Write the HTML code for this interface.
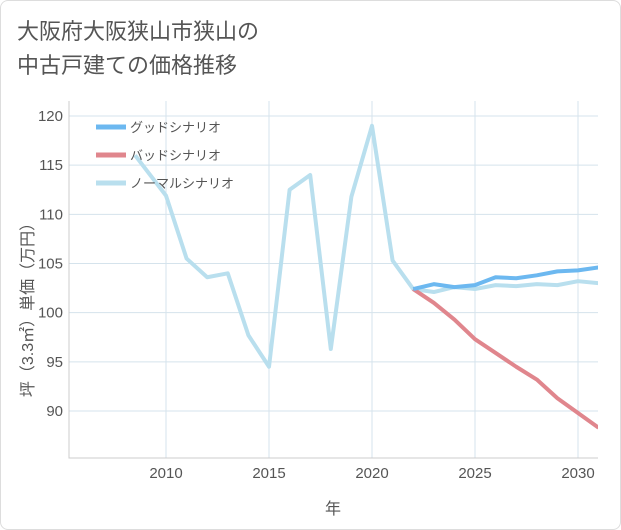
<!DOCTYPE html>
<html><head><meta charset="utf-8"><style>
body{margin:0;background:#fff;font-family:"Liberation Sans","Noto Sans CJK JP",sans-serif}
#wrap{position:relative;width:619px;height:528px;border:1px solid #ddd;border-radius:8px;overflow:hidden}
#title{position:absolute;left:16px;top:14px;font-size:22px;line-height:34px;color:#555}
</style></head><body>
<div id="wrap">
<div id="title">大阪府大阪狭山市狭山の<br>中古戸建ての価格推移</div>
<svg id="chart" width="621" height="530" style="position:absolute;left:0;top:0"></svg>
</div>
<script>
const years=[2008.5,2010,2011,2012,2013,2014,2015,2016,2017,2018,2019,2020,2021,2022,2023,2024,2025,2026,2027,2028,2029,2030,2031];
const normal=[116,111.9,105.5,103.6,104,97.7,94.5,112.5,114,96.3,111.8,119,105.3,102.4,102.1,102.6,102.4,102.8,102.7,102.9,102.8,103.2,103.0];
const fYears=[2022,2023,2024,2025,2026,2027,2028,2029,2030,2031];
const good=[102.4,102.9,102.6,102.8,103.6,103.5,103.8,104.2,104.3,104.6];
const bad=[102.4,101,99.3,97.3,95.9,94.5,93.2,91.3,89.8,88.3];
const xTicks=[2010,2015,2020,2025,2030];
const yTicks=[90,95,100,105,110,115,120];
const ns="http://www.w3.org/2000/svg",svg=document.getElementById('chart');
const L=68,R=597,T=100,B=457;
const x=v=>165+(v-2010)*20.6, y=v=>115+(120-v)*9.833;
function el(t,a,p){const e=document.createElementNS(ns,t);for(const k in a)e.setAttribute(k,a[k]);(p||svg).appendChild(e);return e;}
const g=el('g',{});

xTicks.forEach(v=>{el('line',{x1:x(v),x2:x(v),y1:T,y2:B,stroke:'#d5e3ec'},g);
 const t=el('text',{x:x(v),y:477,'text-anchor':'middle','font-size':15,fill:'#555'});t.textContent=v;
 });
yTicks.forEach(v=>{el('line',{x1:L,x2:R,y1:y(v),y2:y(v),stroke:'#d5e3ec'},g);
 const t=el('text',{x:62,y:y(v)+5,'text-anchor':'end','font-size':15,fill:'#555'});t.textContent=v;
 });
const ax=el('path',{d:`M${L} ${T}V${B}H${R}`,stroke:'#ccc',fill:'none'});

const cp=el('clipPath',{id:'c'});el('rect',{x:L,y:T,width:R-L,height:B-T},cp);
function line(xs,ys,c,n){const p=el('path',{d:xs.map((v,i)=>(i?'L':'M')+x(v)+' '+y(ys[i])).join(''),stroke:c,'stroke-width':4,fill:'none','stroke-linejoin':'round','clip-path':'url(#c)'});
 }
line(years,normal,'#b9dfee','normal-line');
line(fYears,bad,'#e0868d','bad-line');
line(fYears,good,'#6cb8f0','good-line');
[['グッドシナリオ','#6cb8f0','legend-good'],['バッドシナリオ','#e0868d','legend-bad'],['ノーマルシナリオ','#b9dfee','legend-normal']].forEach((d,i)=>{
 const lg=el('g',{});
 el('line',{x1:95,x2:125,y1:126+i*28,y2:126+i*28,stroke:d[1],'stroke-width':5},lg);
 const t=el('text',{x:129,y:131+i*28,'font-size':13,fill:'#555'},lg);t.textContent=d[0];});
const xt=el('text',{x:332,y:513,'text-anchor':'middle','font-size':16,fill:'#555'});xt.textContent='年';

const yt=el('text',{x:0,y:0,'text-anchor':'middle','font-size':16,fill:'#555',transform:'translate(32 305) rotate(-90)'});yt.textContent='坪（3.3㎡）単価（万円）';

</script>
</body></html>
